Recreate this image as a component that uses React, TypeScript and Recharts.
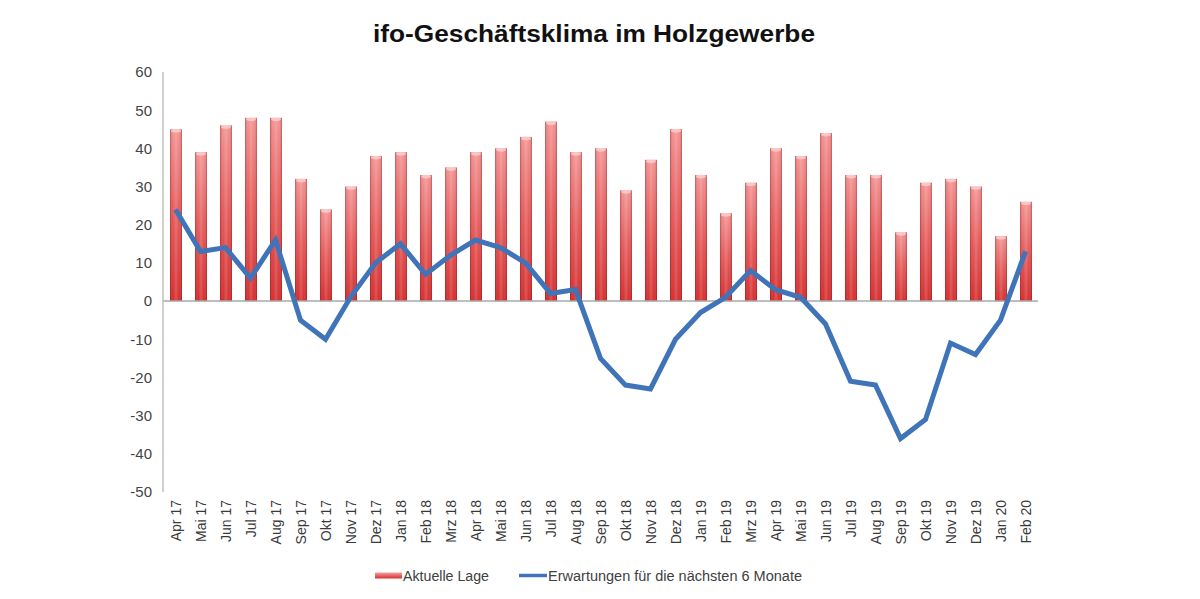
import React from "react";
import { ComposedChart, Bar, Line, XAxis, YAxis, ReferenceLine } from "recharts";

const months = [
  "Apr 17", "Mai 17", "Jun 17", "Jul 17", "Aug 17", "Sep 17", "Okt 17", "Nov 17", "Dez 17",
  "Jan 18", "Feb 18", "Mrz 18", "Apr 18", "Mai 18", "Jun 18", "Jul 18", "Aug 18", "Sep 18",
  "Okt 18", "Nov 18", "Dez 18", "Jan 19", "Feb 19", "Mrz 19", "Apr 19", "Mai 19", "Jun 19",
  "Jul 19", "Aug 19", "Sep 19", "Okt 19", "Nov 19", "Dez 19", "Jan 20", "Feb 20",
];

const aktuelleLage = [
  45, 39, 46, 48, 48, 32, 24, 30, 38,
  39, 33, 35, 39, 40, 43, 47, 39, 40,
  29, 37, 45, 33, 23, 31, 40, 38, 44,
  33, 33, 18, 31, 32, 30, 17, 26,
];

const erwartungen = [
  24, 13, 14, 6, 16, -5, -10, 1, 10,
  15, 7, 12, 16, 14, 10, 2, 3, -15,
  -22, -23, -10, -3, 1, 8, 3, 1, -6,
  -21, -22, -36, -31, -11, -14, -5, 13,
];

const yTicks = [60, 50, 40, 30, 20, 10, 0, -10, -20, -30, -40, -50];

const title = "ifo-Geschäftsklima im Holzgewerbe";
const legendBar = "Aktuelle Lage";
const legendLine = "Erwartungen für die nächsten 6 Monate";

const data = months.map((m, i) => ({ m, lage: aktuelleLage[i], erw: erwartungen[i] }));

const FONT = "'Liberation Sans', Arial, sans-serif";

const BarShape = (props: any) => {
  const { x, y, width, height } = props;
  if (height == null || height <= 0) return null;
  return (
    <g>
      <rect x={x} y={y} width={width} height={height} fill="url(#barV)" />
      <rect x={x} y={y} width={width} height={height} fill="url(#barH)" />
      <ellipse cx={x + width / 2} cy={y + 1.5} rx={width / 2 - 1} ry={1.8} fill="#fbd0d0" opacity={0.8} />
    </g>
  );
};

const XTick = (props: any) => {
  const { x, y, payload } = props;
  return (
    <g transform={`translate(${x},${y})`}>
      <text
        transform="rotate(-90)"
        textAnchor="end"
        dy="0.36em"
        fontSize={14}
        fontFamily={FONT}
        fill="#3a3a3a"
      >
        {payload.value}
      </text>
    </g>
  );
};

export default function App() {
  return (
    <div style={{ position: "absolute", left: 0, top: 0, width: 1200, height: 599, background: "#fff" }}>
      <ComposedChart
        width={1200}
        height={599}
        data={data}
        margin={{ top: 72, right: 162, left: 103, bottom: 37 }}
        barCategoryGap={0}
      >
        <defs>
          <linearGradient id="barV" x1="0" y1="0" x2="0" y2="1">
            <stop offset="0%" stopColor="#f28c8c" />
            <stop offset="50%" stopColor="#e45050" />
            <stop offset="100%" stopColor="#d22222" />
          </linearGradient>
          <linearGradient id="barH" x1="0" y1="0" x2="1" y2="0">
            <stop offset="0%" stopColor="#6a0808" stopOpacity={0.4} />
            <stop offset="25%" stopColor="#ffffff" stopOpacity={0.05} />
            <stop offset="50%" stopColor="#ffffff" stopOpacity={0.22} />
            <stop offset="75%" stopColor="#ffffff" stopOpacity={0.05} />
            <stop offset="100%" stopColor="#6a0808" stopOpacity={0.4} />
          </linearGradient>
        </defs>
        <XAxis
          dataKey="m"
          interval={0}
          axisLine={false}
          tickLine={false}
          height={70}
          tick={<XTick />}
        />
        <YAxis
          domain={[-50, 60]}
          ticks={yTicks}
          interval={0}
          width={60}
          axisLine={{ stroke: "#c0c0c0", strokeWidth: 1.5 }}
          tickLine={false}
          tickMargin={5}
          tick={{ fontSize: 15, fill: "#444", fontFamily: FONT }}
        />
        <ReferenceLine y={0} stroke="#a8a8a8" strokeWidth={1.5} />
        <Bar dataKey="lage" barSize={12} shape={<BarShape />} isAnimationActive={false} />
        <Line
          dataKey="erw"
          type="linear"
          stroke="#3f74b8"
          strokeWidth={5}
          dot={false}
          activeDot={false}
          isAnimationActive={false}
        />
      </ComposedChart>
      <svg
        width={1200}
        height={599}
        style={{ position: "absolute", left: 0, top: 0, pointerEvents: "none" }}
      >
        <defs>
          <linearGradient id="legV" x1="0" y1="0" x2="0" y2="1">
            <stop offset="0%" stopColor="#f4a0a0" />
            <stop offset="100%" stopColor="#d63030" />
          </linearGradient>
        </defs>
        <text
          x={594}
          y={42}
          textAnchor="middle"
          fontSize={23}
          fontWeight="bold"
          fontFamily={FONT}
          fill="#111"
          textLength={442}
          lengthAdjust="spacingAndGlyphs"
        >
          {title}
        </text>
        <rect x={375} y={572.5} width={27} height={6} fill="url(#legV)" />
        <text x={403} y={580.5} fontSize={14} fontFamily={FONT} fill="#404040" textLength={86} lengthAdjust="spacingAndGlyphs">
          {legendBar}
        </text>
        <line x1={519} y1={575.5} x2={547} y2={575.5} stroke="#3f74b8" strokeWidth={3.5} />
        <text x={548} y={580.5} fontSize={14} fontFamily={FONT} fill="#404040" textLength={254} lengthAdjust="spacingAndGlyphs">
          {legendLine}
        </text>
      </svg>
    </div>
  );
}
